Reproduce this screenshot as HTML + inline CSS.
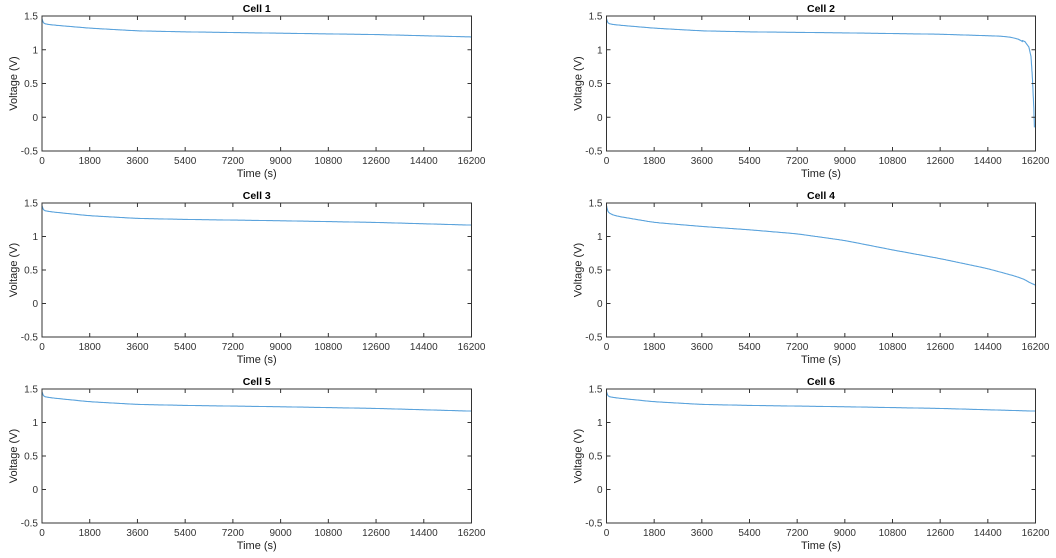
<!DOCTYPE html>
<html><head><meta charset="utf-8"><style>
html,body{margin:0;padding:0;background:#fff;}
svg{display:block;font-family:"Liberation Sans",Arial,sans-serif;}
</style></head><body>
<svg id="s" width="1056" height="558" viewBox="0 0 1056 558"></svg>
<script>
const S=document.getElementById('s');
const cols=[[42,471.5],[606.5,1035.5]];
const rows=[[16,151],[203,337],[389,523]];
function interp(pts,t){for(let i=1;i<pts.length;i++){if(t<=pts[i][0]){const a=pts[i-1],b=pts[i];let u=(t-a[0])/(b[0]-a[0]);
 const m0=i>1?(b[1]-pts[i-2][1])/(b[0]-pts[i-2][0]):(b[1]-a[1])/(b[0]-a[0]);
 return a[1]+(b[1]-a[1])*u;}}return pts[pts.length-1][1];}
function smooth(pts,t){ // average of interp over small window for smoothness
 const w=Math.min(250,t*0.5);let s=0;for(let j=-2;j<=2;j++)s+=interp(pts,t+j*w/2);return s/5;}
const base=[[0,1.46],[60,1.39],[300,1.37],[1800,1.32],[3600,1.28],[5400,1.265],[9000,1.245],[12600,1.225],[16200,1.19]];
const base3=[[0,1.46],[60,1.39],[300,1.37],[1800,1.31],[3600,1.27],[5400,1.255],[9000,1.235],[12600,1.21],[16200,1.17]];
const c2=[[0,1.46],[60,1.39],[300,1.37],[1800,1.32],[3600,1.28],[5400,1.265],[9000,1.25],[12600,1.23],[15000,1.2],[15500,1.17],[15800,1.12],[15950,1.04],[16030,0.9],[16080,0.6],[16130,0.2],[16160,-0.15]];
const c4=[[0,1.46],[60,1.36],[300,1.31],[1800,1.21],[3600,1.15],[5400,1.10],[7200,1.04],[9000,0.94],[10800,0.80],[12600,0.67],[14400,0.52],[15600,0.39],[16000,0.32],[16200,0.25]];
const data=[base,c2,base3,c4,base3,base3];
let h='';
for(let k=0;k<6;k++){
 const [x0,x1]=cols[k%2],[y0,y1]=rows[Math.floor(k/2)];
 const X=t=>x0+(x1-x0)*t/16200, Y=v=>y1-(y1-y0)*(v+0.5)/2;
 let d='';const p=data[k];const tend=p[p.length-1][0];
 for(let t=0;t<=tend;t+=(t<400?10:(t>15500&&k==1?5:40))){
  const v=(k==1&&t>15700)?interp(p,t):smooth(p,t);
  d+=(d?'L':'M')+X(t).toFixed(1)+','+Y(v).toFixed(1);}
 d+='L'+X(tend).toFixed(1)+','+Y(p[p.length-1][1]).toFixed(1);
 h+=`<path d="${d}" fill="none" stroke="#5ba3dc" stroke-width="1.1"/>`;
 h+=`<rect x="${x0}" y="${y0}" width="${x1-x0}" height="${y1-y0}" fill="none" stroke="#333" stroke-width="1"/>`;
 for(let i=0;i<=9;i++){const x=X(i*1800);
  h+=`<line x1="${x}" y1="${y1}" x2="${x}" y2="${y1-4}" stroke="#333"/><line x1="${x}" y1="${y0}" x2="${x}" y2="${y0+4}" stroke="#333"/>`;
  h+=`<text x="${x}" y="${y1+13}" font-size="10" text-anchor="middle" fill="#333">${i*1800}</text>`;}
 [-0.5,0,0.5,1,1.5].forEach(v=>{const y=Y(v);
  h+=`<line x1="${x0}" y1="${y}" x2="${x0+4}" y2="${y}" stroke="#333"/><line x1="${x1}" y1="${y}" x2="${x1-4}" y2="${y}" stroke="#333"/>`;
  h+=`<text x="${x0-4}" y="${y+3.5}" font-size="10" text-anchor="end" fill="#333">${v}</text>`;});
 const xm=(x0+x1)/2;
 h+=`<text x="${xm}" y="${y0-4}" font-size="10.5" font-weight="bold" text-anchor="middle" fill="#000">Cell ${k+1}</text>`;
 h+=`<text x="${xm}" y="${y1+26}" font-size="11" text-anchor="middle" fill="#222">Time (s)</text>`;
 const ym=(y0+y1)/2;
 h+=`<text x="0" y="0" font-size="11" text-anchor="middle" fill="#222" transform="translate(${x0-25},${ym}) rotate(-90)">Voltage (V)</text>`;
}
S.innerHTML=h;
</script>
</body></html>
